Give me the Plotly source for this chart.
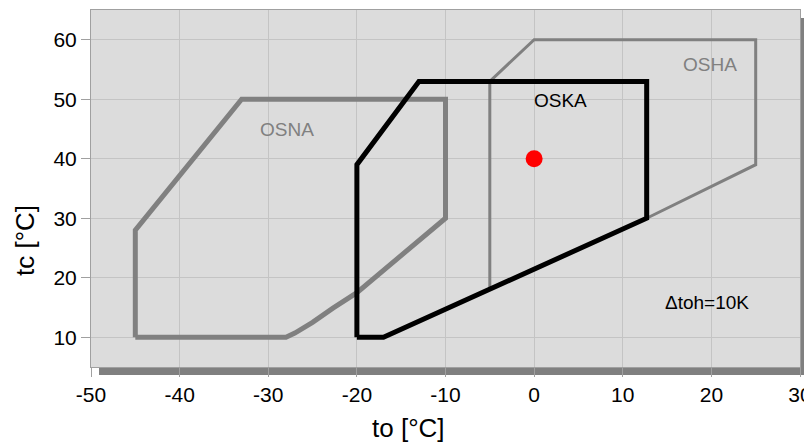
import plotly.graph_objects as go

# Data
osna_to = [-45, -45, -33, -10, -10, -12.9, -15, -20, -22.7, -25, -27, -28, -45]
osna_tc = [10, 28, 50, 50, 30, 26.4, 23.6, 17.5, 14.9, 12.5, 10.7, 10, 10]
osha_to = [-5, -5, 0, 25, 25, 12.7, -5]
osha_tc = [18.1, 53, 60, 60, 39, 30, 18.1]
oska_to = [-20, -20, -13, 12.7, 12.7, -17, -20]
oska_tc = [10, 39, 53, 53, 30, 10, 10]
point_to = [0]
point_tc = [40]
labels = [
    ("OSNA", -27.9, 44.9, "#808080"),
    ("OSHA", 19.9, 55.8, "#808080"),
    ("OSKA", 3.0, 49.8, "#000000"),
    ("\u0394toh=10K", 19.5, 15.9, "#000000"),
]
x_ticks = [-50, -40, -30, -20, -10, 0, 10, 20, 30]
x_ticktext = ["-50", "-40", "-30", "-20", "-10", "0", "10", "20", "30"]
y_ticks = [10, 20, 30, 40, 50, 60]
y_ticktext = ["10", "20", "30", "40", "50", "60"]

FONT = "Liberation Sans, Arial"

fig = go.Figure()
fig.add_trace(go.Scatter(x=osna_to, y=osna_tc, mode="lines",
                         line=dict(color="#808080", width=5), hoverinfo="skip"))
fig.add_trace(go.Scatter(x=osha_to, y=osha_tc, mode="lines",
                         line=dict(color="#808080", width=3), hoverinfo="skip"))
fig.add_trace(go.Scatter(x=oska_to, y=oska_tc, mode="lines",
                         line=dict(color="#000000", width=5), hoverinfo="skip"))
fig.add_trace(go.Scatter(x=point_to, y=point_tc, mode="markers",
                         marker=dict(color="#ff0000", size=17), hoverinfo="skip"))

for txt, x, y, c in labels:
    fig.add_annotation(x=x, y=y, xref="x", yref="y", text=txt, showarrow=False,
                       xanchor="center", yanchor="middle",
                       font=dict(family=FONT, size=19, color=c))

# axis titles
fig.add_annotation(x=0.4485, y=-0.172, xref="paper", yref="paper", text="to [°C]",
                   showarrow=False, xanchor="center", yanchor="middle",
                   font=dict(family=FONT, size=26, color="black"))
fig.add_annotation(x=-0.0931, y=0.3557, xref="paper", yref="paper", text="tc [°C]",
                   showarrow=False, textangle=-90, xanchor="center", yanchor="middle",
                   font=dict(family=FONT, size=26, color="black"))

# shadow + plot background
fig.add_shape(type="rect", xref="paper", yref="paper", x0=0.0113, x1=1.0113,
              y0=-0.0224, y1=0.9776, fillcolor="#808080", line=dict(width=0), layer="below")
fig.add_shape(type="rect", xref="paper", yref="paper", x0=0, x1=1, y0=0, y1=1,
              fillcolor="#dcdcdc", line=dict(width=0), layer="below")

fig.update_layout(
    width=804, height=435,
    margin=dict(l=83, r=12, t=2, b=76),
    paper_bgcolor="white",
    plot_bgcolor="rgba(0,0,0,0)",
    showlegend=False,
    font=dict(family=FONT, size=21, color="black"),
)
fig.update_xaxes(range=[-50, 30], tickvals=x_ticks, ticktext=x_ticktext, showgrid=True,
                 gridcolor="#c4c4c4", gridwidth=1, showline=True, linecolor="#a0a0a0",
                 mirror=True, ticks="outside", ticklen=9, tickcolor="#a0a0a0",
                 zeroline=False, automargin=False, tickfont=dict(size=21))
fig.update_yaxes(range=[5, 65], tickvals=y_ticks, ticktext=y_ticktext, showgrid=True,
                 gridcolor="#c4c4c4", gridwidth=1, showline=True, linecolor="#a0a0a0",
                 mirror=True, ticks="outside", ticklen=9, tickcolor="#a0a0a0",
                 zeroline=False, automargin=False, tickfont=dict(size=21))

fig.write_html("out.html")
